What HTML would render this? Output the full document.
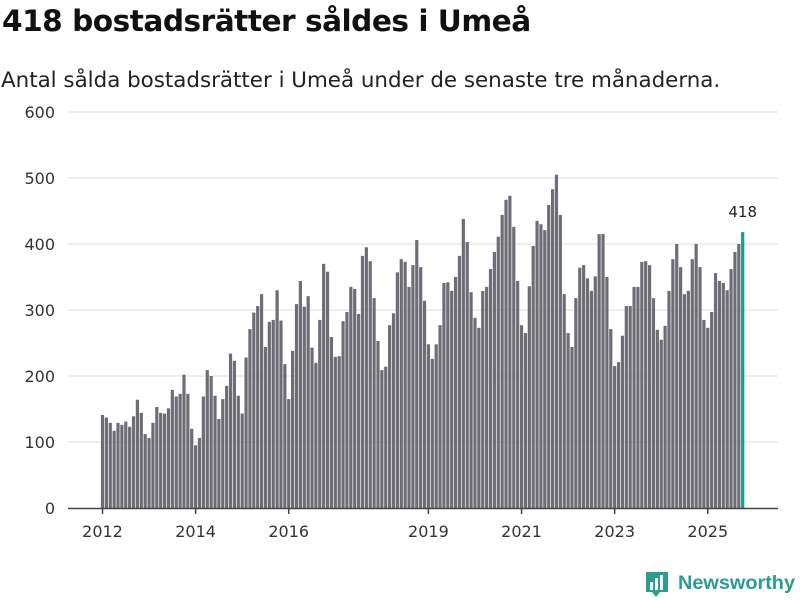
<!DOCTYPE html>
<html><head><meta charset="utf-8"><style>
body{margin:0;background:#fff;font-family:"Liberation Sans","DejaVu Sans",sans-serif;}
#wrap{position:relative;width:800px;height:600px;overflow:hidden;}
h1{position:absolute;left:2px;top:4px;margin:0;font-size:29.6px;font-weight:bold;color:#111;font-family:"DejaVu Sans","Liberation Sans",sans-serif;letter-spacing:-0.5px}
p{position:absolute;left:1px;top:68px;margin:0;font-size:21.4px;color:#222;font-family:"DejaVu Sans","Liberation Sans",sans-serif;}
</style></head><body>
<div id="wrap">
<h1>418 bostadsrätter såldes i Umeå</h1>
<p>Antal sålda bostadsrätter i Umeå under de senaste tre månaderna.</p>
<svg id="chart" width="800" height="600" style="position:absolute;left:0;top:0"></svg>
</div>
<script>
const values=[141,137,129,117,129,126,131,123,139,164,144,112,106,129,153,144,143,151,179,169,173,202,173,120,95,106,169,
209,200,170,135,165,185,234,223,170,143,228,271,296,306,324,244,282,285,330,284,218,165,238,309,344,305,321,
243,220,285,370,358,259,229,230,283,297,335,332,294,382,395,374,318,253,209,214,277,295,357,377,373,335,368,
406,365,314,248,226,248,277,341,342,329,350,382,438,403,327,288,273,329,335,362,388,411,444,467,473,426,344,
277,265,336,397,435,430,421,459,483,505,444,324,265,244,318,364,368,348,329,351,415,415,350,271,215,221,261,
306,306,335,335,373,374,368,318,270,255,276,329,377,400,365,324,329,377,400,365,285,273,297,356,344,341,330,362,388,400,418];
const yTicks=[0,100,200,300,400,500,600];
const yearLabels=["2012","2014","2016","2019","2021","2023","2025"];
const yearIndex=[0,24,48,84,108,132,156];
const NS="http://www.w3.org/2000/svg";
const svg=document.getElementById('chart');
function y(v){return 508-v*0.66;}
function x(i){return 102.5+i*3.88;}
function mk(t,a){const e=document.createElementNS(NS,t);for(const k in a)e.setAttribute(k,a[k]);svg.appendChild(e);return e;}
yTicks.forEach(t=>{
  if(t>0){const g=mk('line',{x1:68,x2:778,y1:y(t),y2:y(t),stroke:'#dcdcdc','stroke-width':1});
  
  }
  const l=mk('text',{x:55,y:y(t)+6,'text-anchor':'end','font-size':16,fill:'#333','font-family':'DejaVu Sans, Liberation Sans, sans-serif'});
  l.textContent=t;
  
  
});
values.forEach((v,i)=>{
  const last=i===values.length-1;
  const r=mk('rect',{x:x(i)-1.6,y:y(v),width:3.2,height:v*0.66,fill:last?'#1a9c8c':'#6e6d75'});
  
  
});
const ax=mk('line',{x1:68,x2:778,y1:508.5,y2:508.5,stroke:'#444','stroke-width':1.5});


yearLabels.forEach((lab,k)=>{
  const xi=x(yearIndex[k]);
  const tk=mk('line',{x1:xi,x2:xi,y1:508,y2:514,stroke:'#444','stroke-width':1.5});
  
  
  const t=mk('text',{x:xi,y:537,'text-anchor':'middle','font-size':16,fill:'#333','font-family':'DejaVu Sans, Liberation Sans, sans-serif'});
  t.textContent=lab;
  
  
});
const li=values.length-1;
const vl=mk('text',{x:x(li),y:y(values[li])-15,'text-anchor':'middle','font-size':15,fill:'#222','font-family':'DejaVu Sans, Liberation Sans, sans-serif'});
vl.textContent=values[li];


const lg=mk('g',{});


const ic=document.createElementNS(NS,'path');
ic.setAttribute('d','M646 572h22v20h-8l-4 5-4-5h-6z');
ic.setAttribute('fill','#2a9d8f');


lg.appendChild(ic);
[[650,582,3],[655,578,3],[660,575,3]].forEach(b=>{const r=document.createElementNS(NS,'rect');r.setAttribute('x',b[0]);r.setAttribute('y',b[1]);r.setAttribute('width',b[2]);r.setAttribute('height',590-b[1]);r.setAttribute('fill','#fff');lg.appendChild(r);});
const lt=document.createElementNS(NS,'text');
lt.setAttribute('x',678);lt.setAttribute('y',589);lt.setAttribute('font-size',19);lt.setAttribute('font-weight','bold');lt.setAttribute('fill','#2a9d8f');
lt.setAttribute('textLength',117);lt.setAttribute('lengthAdjust','spacingAndGlyphs');
lt.setAttribute('font-family','Liberation Sans, DejaVu Sans, sans-serif');
lt.textContent='Newsworthy';


lg.appendChild(lt);
</script>
</body></html>
